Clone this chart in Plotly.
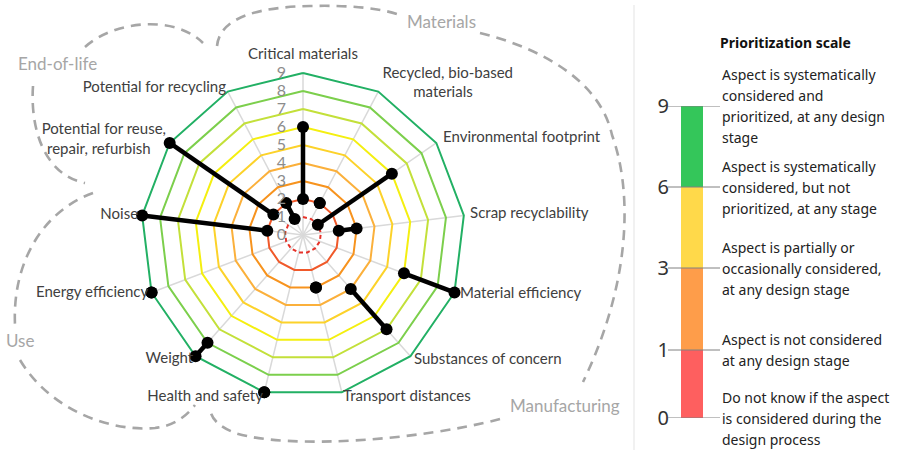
import plotly.graph_objects as go

W, H = 906, 450

# Aspects around the radar (clockwise from the top)
categories = [
    "Critical materials",
    "Recycled, bio-based materials",
    "Environmental footprint",
    "Scrap recyclability",
    "Material efficiency",
    "Substances of concern",
    "Transport distances",
    "Health and safety",
    "Weight",
    "Energy efficiency",
    "Noise",
    "Potential for reuse, repair, refurbish",
    "Potential for recycling",
]
# Label text as printed around the radar
category_labels = [
    "Critical materials",
    "Recycled, bio-based<br>" + "&nbsp;" * 8 + "materials",
    "Environmental footprint",
    "Scrap recyclability",
    "Material efficiency",
    "Substances of concern",
    "Transport distances",
    "Health and safety",
    "Weight",
    "Energy efficiency",
    "Noise",
    "Potential for reuse,<br>repair, refurbish" + "&nbsp;" * 4,
    "Potential for recycling",
]
# Lowest and highest prioritization score reported for each aspect
score_low = [2, 2, 1, 2, 6, 4, 3, 9, 8, 9, 2, 2, 1]
score_high = [6, 2, 6, 3, 9, 7, 3, 9, 9, 9, 9, 9, 2]

# Radar grid rings and their colours
ring_levels = [1, 2, 3, 4, 5, 6, 7, 8, 9]
ring_colors = ["#e6332a", "#f0592a", "#f7931e", "#fbb03b", "#fcd22a",
               "#f4ef10", "#c3e03a", "#7ccf4c", "#22b064"]
radial_ticks = [0, 1, 2, 3, 4, 5, 6, 7, 8, 9]
r_max = 9
r_view = 10          # extra room outside the outer ring for the aspect names

# placement of the aspect labels just outside the outer ring
label_r = [9.55, 9.5, 9.45, 9.35, 9.33, 9.3, 9.3, 9.3, 9.2, 9.2, 9.23, 9.25, 9.2]
label_anchor = ["top center", "middle right", "middle right", "middle right",
                "middle right", "middle right", "middle right", "middle left",
                "middle left", "middle left", "middle left", "middle left",
                "middle left"]

# Prioritization scale legend
scale_levels = ["0", "1", "3", "6", "9"]
scale_pos = [0, 68, 150, 231, 312]          # vertical placement of the level marks
band_colors = ["#fe5f5f", "#fe9d4a", "#ffd94a", "#34c65a"]
scale_text = [
    ["Do not know if the aspect", "is considered during the", "design process"],
    ["Aspect is not considered", "at any design stage"],
    ["Aspect is partially or", "occasionally considered,", "at any design stage"],
    ["Aspect is systematically", "considered, but not", "prioritized, at any stage"],
    ["Aspect is systematically", "considered and", "prioritized, at any design", "stage"],
]

# Life-cycle stage group labels
group_names = ["Materials", "Manufacturing", "Use", "End-of-life"]


def px(x, y):
    return x / W, 1 - y / H


def path_px(cmds):
    out = []
    for c in cmds:
        if isinstance(c, str):
            out.append(c)
        else:
            x, y = px(*c)
            out.append(f"{x:.5f},{y:.5f}")
    return " ".join(out)


fig = go.Figure()

# grey spokes from the centre to the outer ring
for cat in categories:
    fig.add_trace(go.Scatterpolar(
        r=[0, r_max], theta=[cat, cat], mode="lines",
        line=dict(color="#d9d9d9", width=1.5),
        hoverinfo="skip", showlegend=False,
    ))

# coloured rings
closed = categories + [categories[0]]
for lvl, col in zip(ring_levels, ring_colors):
    fig.add_trace(go.Scatterpolar(
        r=[lvl] * len(closed), theta=closed, mode="lines",
        line=dict(color=col, width=2, dash="4px,3px" if lvl == 1 else "solid"),
        hoverinfo="skip", showlegend=False,
    ))

# range of scores per aspect
for cat, lo, hi in zip(categories, score_low, score_high):
    fig.add_trace(go.Scatterpolar(
        r=[lo, hi], theta=[cat, cat], mode="lines+markers",
        line=dict(color="black", width=4.5),
        marker=dict(color="black", size=12),
        hoverinfo="skip", showlegend=False,
    ))

# aspect names around the outer ring
fig.add_trace(go.Scatterpolar(
    r=label_r, theta=categories, mode="text",
    text=category_labels, textposition=label_anchor,
    textfont=dict(family="Lato", size=15, color="#404040"),
    cliponaxis=False, hoverinfo="skip", showlegend=False,
))

# legend colour bar
bases = scale_pos[:-1]
heights = [b - a for a, b in zip(scale_pos[:-1], scale_pos[1:])]
fig.add_trace(go.Bar(
    x=[0] * len(heights), y=heights, base=bases, width=1,
    marker=dict(color=band_colors, line=dict(width=0)),
    hoverinfo="skip", showlegend=False, xaxis="x", yaxis="y",
))

# polar area: 18 px per score unit, centred at (303, 235)
half = 18 * r_view
cx0, cy0 = px(303 - half, 235 + half)
cx1, cy1 = px(303 + half, 235 - half)
fig.update_layout(
    template="none",
    width=W, height=H,
    margin=dict(l=0, r=0, t=0, b=0, pad=0, autoexpand=False),
    paper_bgcolor="white", plot_bgcolor="white",
    showlegend=False,
    barmode="overlay",
    polar=dict(
        domain=dict(x=[cx0, cx1], y=[cy0, cy1]),
        bgcolor="rgba(0,0,0,0)",
        gridshape="linear",
        angularaxis=dict(
            type="category", categoryarray=categories,
            rotation=90, direction="clockwise",
            showgrid=False, showline=False, ticks="", showticklabels=False,
        ),
        radialaxis=dict(
            range=[0, r_view], tickvals=radial_ticks, angle=90, side="counterclockwise",
            tickangle=90, showgrid=False, showline=False,
            ticks="outside", ticklen=11, tickcolor="rgba(0,0,0,0)",
            tickfont=dict(family="Lato", size=16, color="#8c8c8c"),
        ),
    ),
    xaxis=dict(domain=[670 / W, 714 / W], range=[-1, 1], visible=False,
               fixedrange=True, automargin=False),
    yaxis=dict(
        domain=[1 - 418 / H, 1 - 106 / H], range=[0, scale_pos[-1]],
        tickvals=scale_pos, ticktext=scale_levels, automargin=False,
        showgrid=False, zeroline=False, showline=False, ticks="",
        tickfont=dict(family="Noto Sans", size=20, color="#333333"),
        fixedrange=True,
    ),
)

shapes = []
# level marks on the legend bar
for p in scale_pos:
    shapes.append(dict(type="line", xref="paper", yref="y",
                       x0=668 / W, x1=720 / W, y0=p, y1=p,
                       line=dict(color="#808080", width=1), layer="above"))
# separator between radar and legend
shapes.append(dict(type="line", xref="paper", yref="paper",
                   x0=634 / W, x1=634 / W, y0=0, y1=1 - 5 / H,
                   line=dict(color="#e3e3e3", width=1)))

# dashed outlines of the life-cycle stage groups
dash_line = dict(color="#a6a6a6", width=2.6, dash="10px,7px")
outline_paths = [
    # Materials
    ["M", (217, 46), "C", (220, 16), (262, 7), (310, 6), "C", (350, 5), (380, 8), (400, 15)],
    ["M", (480, 33), "C", (540, 48), (600, 80), (612, 135), "C", (632, 190), (632, 280), (583, 382)],
    # Manufacturing
    ["M", (500, 419), "C", (420, 440), (290, 450), (235, 433), "C", (218, 426), (210, 418), (210, 407)],
    # Use
    ["M", (93, 193), "C", (45, 210), (12, 260), (15, 325)],
    ["M", (20, 360), "C", (50, 410), (110, 432), (155, 428), "C", (172, 426), (185, 418), (195, 405)],
    # End-of-life
    ["M", (85, 47), "C", (115, 20), (175, 15), (203, 43)],
    ["M", (33, 86), "C", (30, 130), (45, 175), (85, 183)],
]
for p in outline_paths:
    shapes.append(dict(type="path", xref="paper", yref="paper",
                       path=path_px(p), line=dash_line, layer="below"))
fig.update_layout(shapes=shapes)

annotations = []
# stage group names
group_xy = [(441, 22), (565, 405), (20, 340), (57, 63)]
for name, (gx, gy) in zip(group_names, group_xy):
    x, y = px(gx, gy)
    annotations.append(dict(xref="paper", yref="paper", x=x, y=y, text=name,
                            showarrow=False, xanchor="center", yanchor="middle",
                            font=dict(family="Lato", size=17, color="#a6a6a6")))
# legend title
tx, ty = px(785, 42)
annotations.append(dict(xref="paper", yref="paper", x=tx, y=ty,
                        text="<b>Prioritization scale</b>", showarrow=False,
                        xanchor="center", yanchor="middle",
                        font=dict(family="Noto Sans", size=14, color="#111111")))
# level descriptions, centred on each level mark
line_gap = 21
for p, lines in zip(scale_pos, scale_text):
    n = len(lines)
    for k, ln in enumerate(lines):
        annotations.append(dict(xref="paper", yref="y", x=720 / W, y=p,
                                text=ln, showarrow=False,
                                xanchor="left", yanchor="middle",
                                yshift=((n - 1) / 2 - k) * line_gap,
                                font=dict(family="Noto Sans", size=14, color="#222222")))
fig.update_layout(annotations=annotations)

fig.write_html("out.html")
